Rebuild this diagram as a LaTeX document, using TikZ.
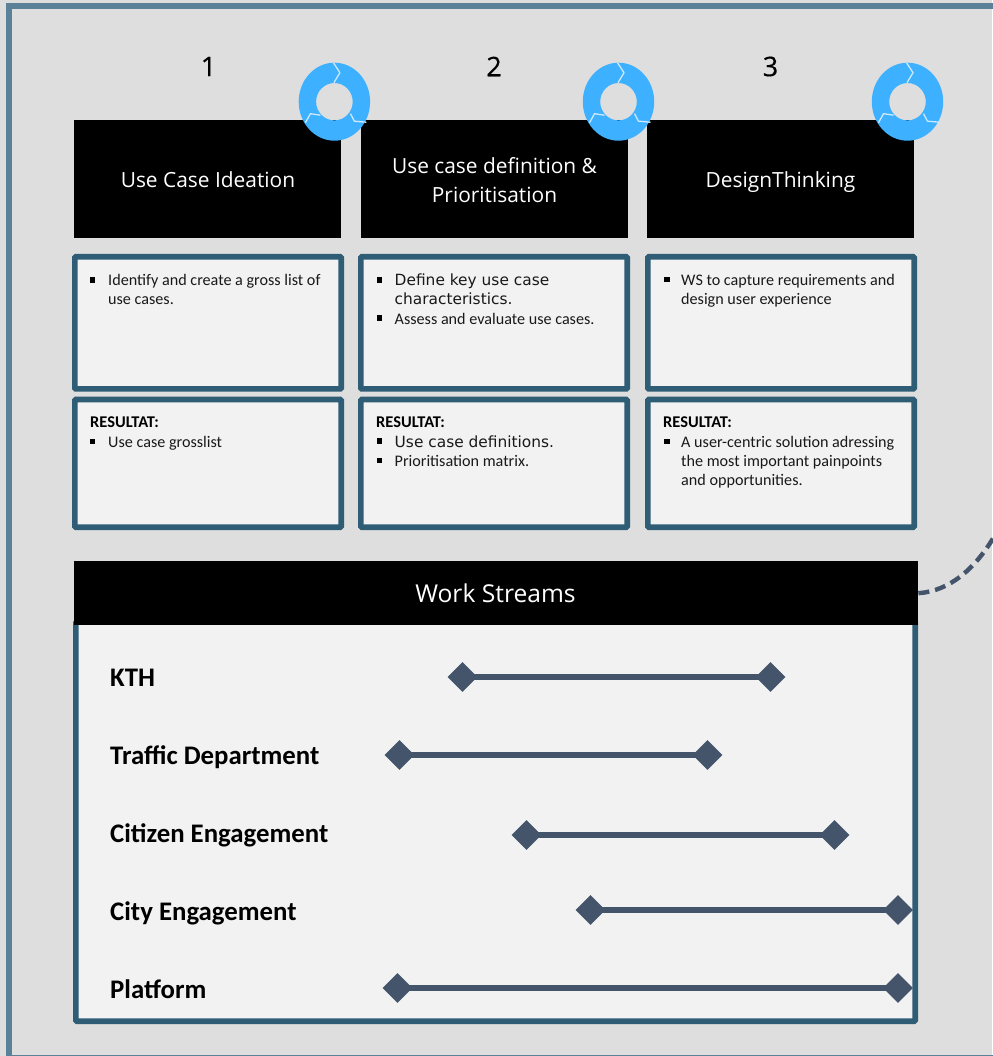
\documentclass[tikz,border=0pt]{standalone}
\usepackage{fontspec}
\setmainfont{Carlito}
\newfontfamily\headfont{Open Sans}
\newfontfamily\numfont[FakeBold=0.4]{Open Sans}
\newfontfamily\widefont{DejaVu Sans}
\usetikzlibrary{shapes.geometric}
\definecolor{framec}{HTML}{5B8198}
\definecolor{bgc}{HTML}{DEDEDE}
\definecolor{panelc}{HTML}{F2F2F2}
\definecolor{panelline}{HTML}{305D76}
\definecolor{barc}{HTML}{44546A}
\definecolor{ringc}{HTML}{3DB1FF}
\definecolor{ringsep}{HTML}{CDE9FF}
\tikzset{
  x=1pt,y=-1pt,
  panel/.style={draw=panelline,line width=5.6pt,fill=panelc,rounded corners=1pt},
  headbox/.style={fill=black,draw=none},
  headtext/.style={text=white,font=\headfont\fontsize{20.9}{29}\selectfont,align=center},
  numtext/.style={font=\numfont\fontsize{27}{30}\selectfont},
  body/.style={anchor=base west,inner sep=0pt,font=\fontsize{16.15}{19}\selectfont,align=left,text=black!90},
  bodywide/.style={anchor=base west,inner sep=0pt,font=\widefont\fontsize{15.4}{18}\selectfont,align=left,text=black!90},
  reshead/.style={anchor=base west,inner sep=0pt,font=\bfseries\fontsize{16.4}{18}\selectfont},
  bul/.style={fill=black,inner sep=0pt,minimum size=5.4pt},
  rowlabel/.style={anchor=base west,inner sep=0pt,font=\bfseries\fontsize{26.8}{30}\selectfont},
  marker/.style={diamond,fill=barc,inner sep=0pt,minimum width=30pt,minimum height=30pt},
  barline/.style={draw=barc,line width=6pt},
  ringsepline/.style={draw=ringsep,line width=1.3pt,line join=round},
}
\newcommand{\ringat}[2]{%
  \fill[ringc,even odd rule] (#1,#2) ellipse [x radius=35.7,y radius=39] (#1,#2) ellipse [x radius=18.3,y radius=18.7];
  \draw[ringsepline] (#1,#2) ++(-1,-39) -- ++(6.5,10) -- ++(-6,10);
  \draw[ringsepline] (#1,#2) ++(16,12) -- ++(4,7.5) -- ++(12,1);
  \draw[ringsepline] (#1,#2) ++(-29,21) -- ++(5,-9) -- ++(10,1.5);
}
\begin{document}
\begin{tikzpicture}
\useasboundingbox (0,0) rectangle (992,1056);
\fill[bgc] (0,0) rectangle (992,1056);
\draw[draw=framec,line width=5.5pt] (1010,6) -- (9,6) -- (9,1058) -- (1010,1058);

% numbers
\node[numtext] (n1) at (208.5,66.5) {1};
\node[numtext] (n2) at (494,66.5) {2};
\node[numtext] (n3) at (770.5,66.5) {3};

% header boxes
\node[headbox,anchor=north west,minimum width=267pt,minimum height=118pt,inner sep=0pt] (h1) at (74,120) {};
\node[headbox,anchor=north west,minimum width=267pt,minimum height=118pt,inner sep=0pt] (h2) at (361,120) {};
\node[headbox,anchor=north west,minimum width=267pt,minimum height=118pt,inner sep=0pt] (h3) at (647,120) {};
\node[headtext] (h1t) at (208,179.5) {Use Case Ideation};
\node[headtext] (h2t) at (494.5,180) {Use case definition \&\\Prioritisation};
\node[headtext] (h3t) at (780.5,182) {DesignThinking};

% rings
\ringat{334.4}{101.7}
\ringat{618.5}{101.7}
\ringat{907.5}{101.7}

% panels
\draw[panel] (74.8,256.8) rectangle (341.2,388.9);
\draw[panel] (74.8,399.5) rectangle (341.2,527.2);
\draw[panel] (360.8,256.8) rectangle (627.2,388.9);
\draw[panel] (360.8,399.5) rectangle (627.2,527.2);
\draw[panel] (647.8,256.8) rectangle (914.2,388.9);
\draw[panel] (647.8,399.5) rectangle (914.2,527.2);

% panel text, column 1
\node[bul] (b1) at (92.5,280) {};
\node[body] (t1) at (108,304) {Identify and create a gross list of\\use cases.};
\node[reshead] (r1) at (90,427) {RESULTAT:};
\node[bul] (b1r) at (92.5,441.5) {};
\node[body] (t1r) at (108,447) {Use case grosslist};

% panel text, column 2
\node[bul] (b2) at (379.5,280) {};
\node[bodywide] (t2) at (394.5,304) {Define key use case\\characteristics.};
\node[bul] (b2b) at (379.5,318) {};
\node[body] (t2b) at (394.5,324) {Assess and evaluate use cases.};
\node[reshead] (r2) at (376,427) {RESULTAT:};
\node[bul] (b2r) at (379.5,441) {};
\node[bodywide] (t2r) at (394.5,447) {Use case definitions.};
\node[bul] (b2s) at (379.5,460.5) {};
\node[body] (t2s) at (394.5,466) {Prioritisation matrix.};

% panel text, column 3
\node[bul] (b3) at (667,279.5) {};
\node[body] (t3) at (681,304) {WS to capture requirements and\\design user experience};
\node[reshead] (r3) at (663,427) {RESULTAT:};
\node[bul] (b3r) at (667,441.5) {};
\node[body] (t3r) at (681,485) {A user-centric solution adressing\\the most important painpoints\\and opportunities.};

% work streams
\draw[panel] (75.8,622) rectangle (915.2,1021.2);
\node[headbox,anchor=north west,minimum width=844pt,minimum height=64pt,inner sep=0pt] (ws) at (74,561) {};
\node[headtext,font=\headfont\fontsize{24.6}{29}\selectfont] (wst) at (495.5,593) {Work Streams};
\coordinate (curveend) at (995,535);
\draw[draw=barc,line width=4.4pt,dash pattern=on 11pt off 6pt] (ws.east) .. controls (950,591) and (976,568) .. (curveend);

% rows
\node[rowlabel] (l1) at (110,686) {KTH};
\node[rowlabel] (l2) at (110,764) {Traffic Department};
\node[rowlabel] (l3) at (110,842) {Citizen Engagement};
\node[rowlabel] (l4) at (110,920) {City Engagement};
\node[rowlabel] (l5) at (110,998) {Platform};

\node[marker] (a1) at (462.5,677) {};
\node[marker] (z1) at (770.5,677) {};
\node[marker] (a2) at (399.5,755) {};
\node[marker] (z2) at (707.5,755) {};
\node[marker] (a3) at (526.5,835) {};
\node[marker] (z3) at (834.5,835) {};
\node[marker] (a4) at (590.5,910) {};
\node[marker] (z4) at (898,910) {};
\node[marker] (a5) at (397.5,988) {};
\node[marker] (z5) at (898,988) {};
\draw[barline] (a1.center) -- (z1.center);
\draw[barline] (a2.center) -- (z2.center);
\draw[barline] (a3.center) -- (z3.center);
\draw[barline] (a4.center) -- (z4.center);
\draw[barline] (a5.center) -- (z5.center);
\end{tikzpicture}
\end{document}
